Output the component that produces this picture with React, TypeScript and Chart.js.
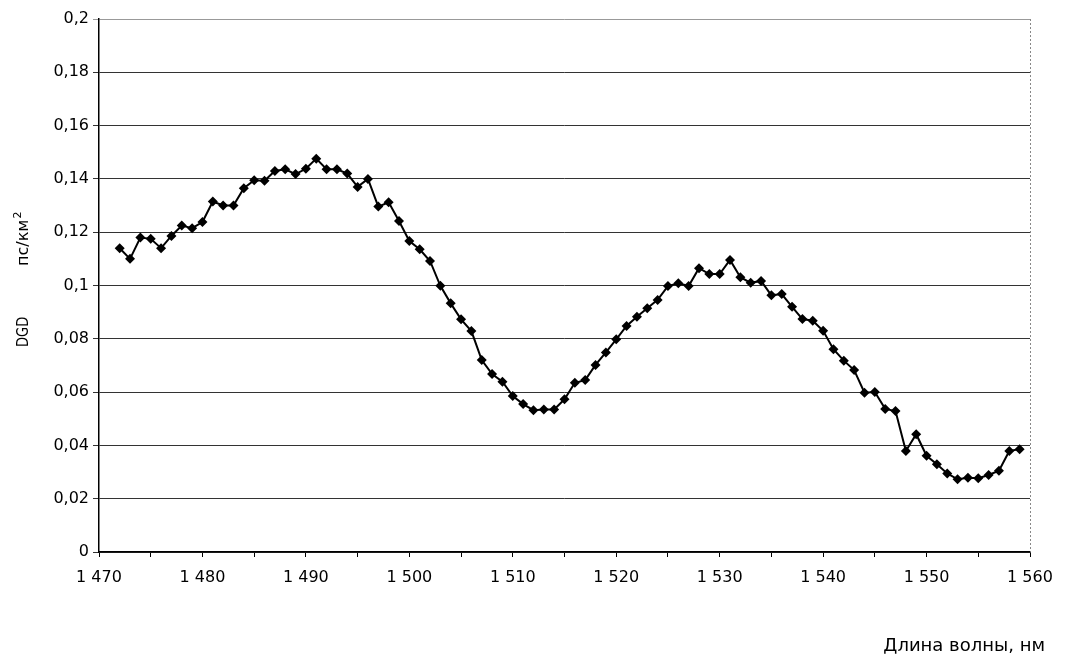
import React, { useEffect, useRef } from "react";
import { Chart, registerables } from "chart.js";

Chart.register(...registerables);

const wavelengths: number[] = [
  1472, 1473, 1474, 1475, 1476, 1477, 1478, 1479, 1480, 1481,
  1482, 1483, 1484, 1485, 1486, 1487, 1488, 1489, 1490, 1491,
  1492, 1493, 1494, 1495, 1496, 1497, 1498, 1499, 1500, 1501,
  1502, 1503, 1504, 1505, 1506, 1507, 1508, 1509, 1510, 1511,
  1512, 1513, 1514, 1515, 1516, 1517, 1518, 1519, 1520, 1521,
  1522, 1523, 1524, 1525, 1526, 1527, 1528, 1529, 1530, 1531,
  1532, 1533, 1534, 1535, 1536, 1537, 1538, 1539, 1540, 1541,
  1542, 1543, 1544, 1545, 1546, 1547, 1548, 1549, 1550, 1551,
  1552, 1553, 1554, 1555, 1556, 1557, 1558, 1559,
];

const dgdValues: number[] = [
  0.114, 0.110, 0.118, 0.1175, 0.114, 0.1186, 0.1225, 0.1215, 0.1238, 0.1315,
  0.130, 0.130, 0.1365, 0.1395, 0.1393, 0.143, 0.1436, 0.1418, 0.1438, 0.1476,
  0.1436, 0.1436, 0.142, 0.137, 0.140, 0.1296, 0.1312, 0.1242, 0.1167, 0.1136,
  0.1092, 0.0999, 0.0933, 0.0873, 0.0829, 0.072, 0.0668, 0.0639, 0.0585, 0.0555,
  0.0532, 0.0535, 0.0535, 0.0573, 0.0635, 0.0645, 0.0702, 0.0749, 0.0798, 0.0848,
  0.0883, 0.0915, 0.0946, 0.0998, 0.1008, 0.0998, 0.1065, 0.1043, 0.1043, 0.1096,
  0.1031, 0.101, 0.1017, 0.0963, 0.0968, 0.092, 0.0874, 0.0868, 0.083, 0.0761,
  0.0718, 0.0683, 0.0598, 0.060, 0.0537, 0.0529, 0.0379, 0.0442, 0.0361, 0.0329,
  0.0295, 0.0273, 0.0279, 0.0277, 0.0289, 0.0305, 0.0379, 0.0386,
];

const xTitle = "Длина волны, нм";
const yTitleName = "DGD";
const yTitleUnit = "пс/км";
const yTitleSup = "2";

const FONT = "'DejaVu Sans', sans-serif";

const decorations = {
  id: "decorations",
  afterDraw(chart: any) {
    const { ctx, chartArea } = chart;
    ctx.save();
    // right border (dotted)
    ctx.strokeStyle = "#888";
    ctx.lineWidth = 1;
    ctx.setLineDash([2, 2]);
    ctx.beginPath();
    ctx.moveTo(chartArea.right + 0.5, chartArea.top);
    ctx.lineTo(chartArea.right + 0.5, chartArea.bottom);
    ctx.stroke();
    ctx.setLineDash([]);

    // x axis title, right aligned
    ctx.fillStyle = "#000";
    ctx.font = `18px ${FONT}`;
    ctx.textAlign = "right";
    ctx.textBaseline = "middle";
    ctx.fillText(xTitle, 1045, 646);

    // y axis title (rotated)
    ctx.translate(24, 0);
    ctx.rotate(-Math.PI / 2);
    ctx.textAlign = "left";
    ctx.textBaseline = "middle";
    ctx.font = `16px ${FONT}`;
    // in rotated coords, x = -y_screen
    ctx.save();
    ctx.translate(-347, 0);
    ctx.scale(0.82, 1);
    ctx.fillText(yTitleName, 0, 0);
    ctx.restore();
    const unitStart = -266;
    ctx.fillText(yTitleUnit, unitStart, 0);
    const w = ctx.measureText(yTitleUnit).width;
    ctx.font = `11px ${FONT}`;
    ctx.fillText(yTitleSup, unitStart + w + 1, -6);
    ctx.restore();
  },
};

export default function App() {
  const ref = useRef<HTMLCanvasElement | null>(null);

  useEffect(() => {
    if (!ref.current) return;
    const points = wavelengths.map((w, i) => ({ x: w, y: dgdValues[i] }));
    const chart = new Chart(ref.current, {
      type: "line",
      data: {
        datasets: [
          {
            data: points,
            borderColor: "#000",
            backgroundColor: "#000",
            borderWidth: 2,
            pointStyle: "rectRot",
            pointRadius: 5,
            pointBorderWidth: 0,
            tension: 0,
          },
        ],
      },
      options: {
        animation: false,
        responsive: false,
        layout: { padding: { top: 19, right: 41, left: 0, bottom: 0 } },
        plugins: { legend: { display: false }, tooltip: { enabled: false } },
        scales: {
          x: {
            type: "linear",
            min: 1470,
            max: 1560,
            afterFit: (s: any) => {
              s.height = 105;
            },
            ticks: {
              stepSize: 5,
              autoSkip: false,
              maxRotation: 0,
              color: "#000",
              font: { family: FONT, size: 16 },
              padding: 11,
              callback: (v: any) => {
                const n = Math.round(Number(v));
                if (n % 10 !== 0) return "";
                return `${Math.floor(n / 1000)} ${String(n % 1000).padStart(3, "0")}`;
              },
            },
            grid: {
              drawOnChartArea: false,
              tickLength: 5,
              color: "#000",
            },
            border: { color: "#000", width: 1.5 },
          },
          y: {
            min: 0,
            max: 0.2,
            afterFit: (s: any) => {
              s.width = 99;
            },
            ticks: {
              stepSize: 0.02,
              color: "#000",
              font: { family: FONT, size: 16 },
              padding: 4,
              callback: (v: any) => String(Number(Number(v).toFixed(2))).replace(".", ","),
            },
            grid: {
              color: (c: any) => (c.tick && c.tick.value === 0.2 ? "#999" : "#333"),
              lineWidth: 1,
              tickLength: 6,
            },
            border: { color: "#000", width: 1.5 },
          },
        },
      },
      plugins: [decorations],
    });
    return () => chart.destroy();
  }, []);

  return (
    <div style={{ position: "fixed", left: 0, top: 0, width: 1071, height: 657, background: "#fff" }}>
      <canvas ref={ref} width={1071} height={657} />
    </div>
  );
}
